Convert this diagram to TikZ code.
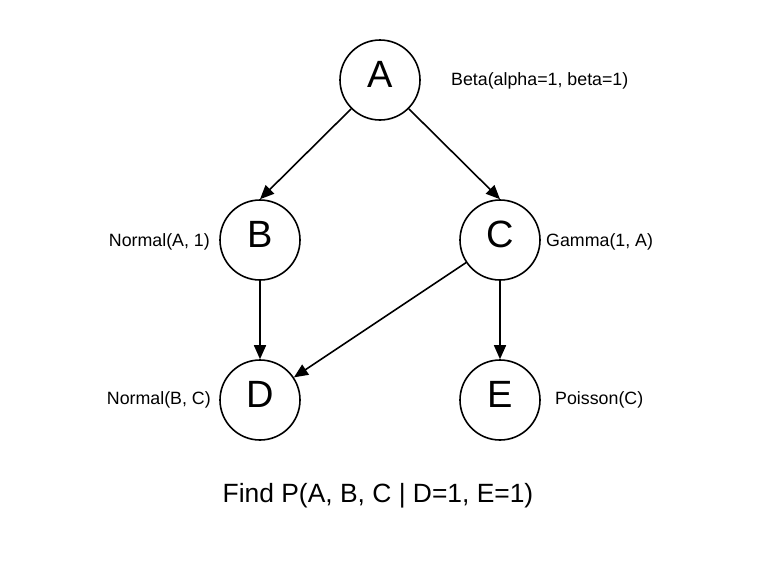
\documentclass[tikz,border=0pt]{standalone}
\usepackage{fontspec}
\setmainfont{Liberation Sans}
\usetikzlibrary{arrows.meta}
\begin{document}
\begin{tikzpicture}[x=1pt,y=-1pt,
  rv/.style={circle,draw,line width=1.6pt,minimum size=80pt,inner sep=0pt,
    font=\fontsize{38}{38}\selectfont,text depth=12pt},
  dist/.style={font=\fontsize{17.8}{18}\selectfont,inner sep=0pt},
  query/.style={font=\fontsize{26.4}{26}\selectfont,inner sep=0pt},
  edge/.style={line width=1.6pt,-{Triangle[length=14pt,width=12pt]}}]
\fill[white] (0,0) rectangle (760,574);
\useasboundingbox (0,0) rectangle (760,574);
\node[rv] (A) at (380,80) {A};
\node[rv] (B) at (260,240) {B};
\node[rv] (C) at (500,240) {C};
\node[rv] (D) at (260,400) {D};
\node[rv] (E) at (500,400) {E};
\node[dist,anchor=base west] (la) at (451,85.7) {Beta(alpha=1, beta=1)};
\node[dist,anchor=base east] (lb) at (210,246) {Normal(A, 1)};
\node[dist,anchor=base west] (lc) at (546,246) {Gamma(1, A)};
\node[dist,anchor=base east] (ld) at (211,404) {Normal(B, C)};
\node[dist,anchor=base west] (le) at (555,404) {Poisson(C)};
\node[query,anchor=base] (q) at (378,502) {Find P(A, B, C | D=1, E=1)};
\draw[edge] (A.south west) -- (B.north);
\draw[edge] (A.south east) -- (C.north);
\draw[edge] (B) -- (D);
\draw[edge] (C) -- (D);
\draw[edge] (C) -- (E);
\end{tikzpicture}
\end{document}
